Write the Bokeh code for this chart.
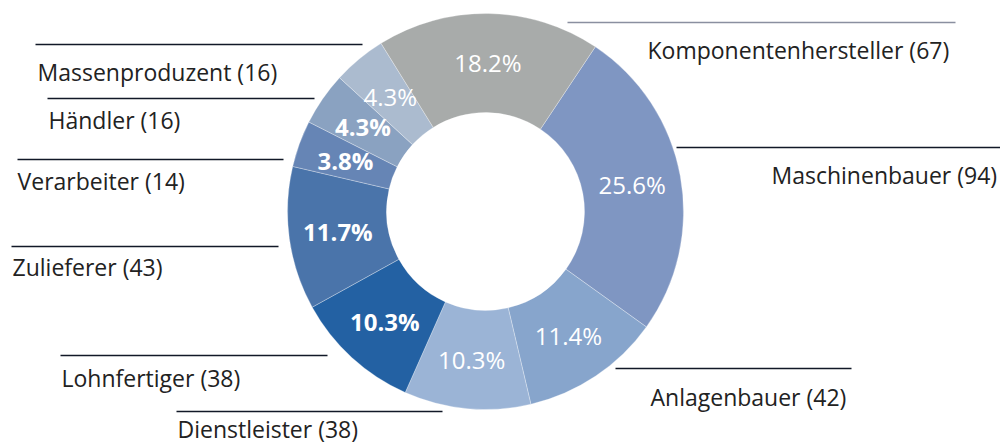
import math
from bokeh.plotting import figure
from bokeh.models import Range1d, ColumnDataSource
from bokeh.core.properties import value
from bokeh.embed import file_html
from bokeh.resources import INLINE

# ---- data ----
categories = ["Maschinenbauer", "Anlagenbauer", "Dienstleister", "Lohnfertiger",
              "Zulieferer", "Verarbeiter", "Händler", "Massenproduzent",
              "Komponentenhersteller"]
counts = [94, 42, 38, 38, 43, 14, 16, 16, 67]
pct_labels = ["25.6%", "11.4%", "10.3%", "10.3%", "11.7%", "3.8%", "4.3%", "4.3%", "18.2%"]

# ---- styles ----
colors = ["#7f96c2", "#87a5cc", "#9bb4d6", "#2361a3", "#4a74aa",
          "#6685b5", "#8aa2c1", "#abbbcf", "#a8abaa"]
pct_bold = [False, False, False, True, True, True, True, False, False]

# ---- layout (reference pixel coordinates, y downwards) ----
CX, CY = 485.0, 211.0
R_OUT, R_IN, R_LAB = 198.0, 99.0, 149.0
START_DEG = 33.7  # clockwise from 12 o'clock where the first slice begins

# label anchor: (text x, text middle y, line x0, line x1, line y)
label_layout = [
    (771, 174, 676, 1000, 147),
    (650, 396, 615, 851, 368),
    (177, 428, 176, 442, 411),
    (61, 377, 60, 327, 355),
    (12, 266, 11, 278, 246),
    (17, 180, 17, 283, 159),
    (48, 119, 47, 314, 98),
    (37, 71, 35, 362, 44),
    (647, 49, 567, 955, 22),
]
line_colors = ["#111827"] * 8 + ["#8a8fa0"]

def fy(y):
    return -y

total = float(sum(counts))
starts, ends, lx, ly = [], [], [], []
acc = START_DEG
for c in counts:
    span = c / total * 360.0
    s, e = acc, acc + span
    starts.append(math.radians(90.0 - s))
    ends.append(math.radians(90.0 - e))
    mid = math.radians((s + e) / 2.0)
    lx.append(CX + R_LAB * math.sin(mid))
    ly.append(fy(CY - R_LAB * math.cos(mid)))
    acc = e

W, H = 1000, 444
X0, Y0 = 0, 0
p = figure(width=W, height=H, output_backend="svg", toolbar_location=None,
           x_range=Range1d(X0, X0 + W), y_range=Range1d(fy(Y0 + H), fy(Y0)),
           min_border=0, outline_line_color=None)
p.axis.visible = False
p.grid.visible = False
p.background_fill_color = "white"
p.border_fill_color = "white"

src = ColumnDataSource(dict(start=starts, end=ends, color=colors))
p.annular_wedge(x=CX, y=fy(CY), inner_radius=R_IN, outer_radius=R_OUT,
                start_angle="start", end_angle="end", direction="clock",
                fill_color="color", line_color="white", line_alpha=0.5,
                line_width=0.6, source=src)

FONT = value("Open Sans")
for i in range(len(counts)):
    p.text(x=[lx[i]], y=[ly[i]], text=[pct_labels[i]], text_color="white",
           text_font=FONT, text_font_size="24px",
           text_font_style="bold" if pct_bold[i] else "normal",
           text_align="center", text_baseline="middle")

seg = ColumnDataSource(dict(
    x0=[l[2] for l in label_layout], x1=[l[3] for l in label_layout],
    y0=[fy(l[4]) for l in label_layout], y1=[fy(l[4]) for l in label_layout],
    color=line_colors))
p.segment(x0="x0", y0="y0", x1="x1", y1="y1", line_color="color",
          line_width=1.3, source=seg)

names = ["%s (%d)" % (c, n) for c, n in zip(categories, counts)]
p.text(x=[l[0] for l in label_layout], y=[fy(l[1]) for l in label_layout],
       text=names, text_color="#222222", text_font=FONT,
       text_font_size="23px", text_align="left", text_baseline="middle")

open("out.html", "w").write(file_html(p, INLINE))
